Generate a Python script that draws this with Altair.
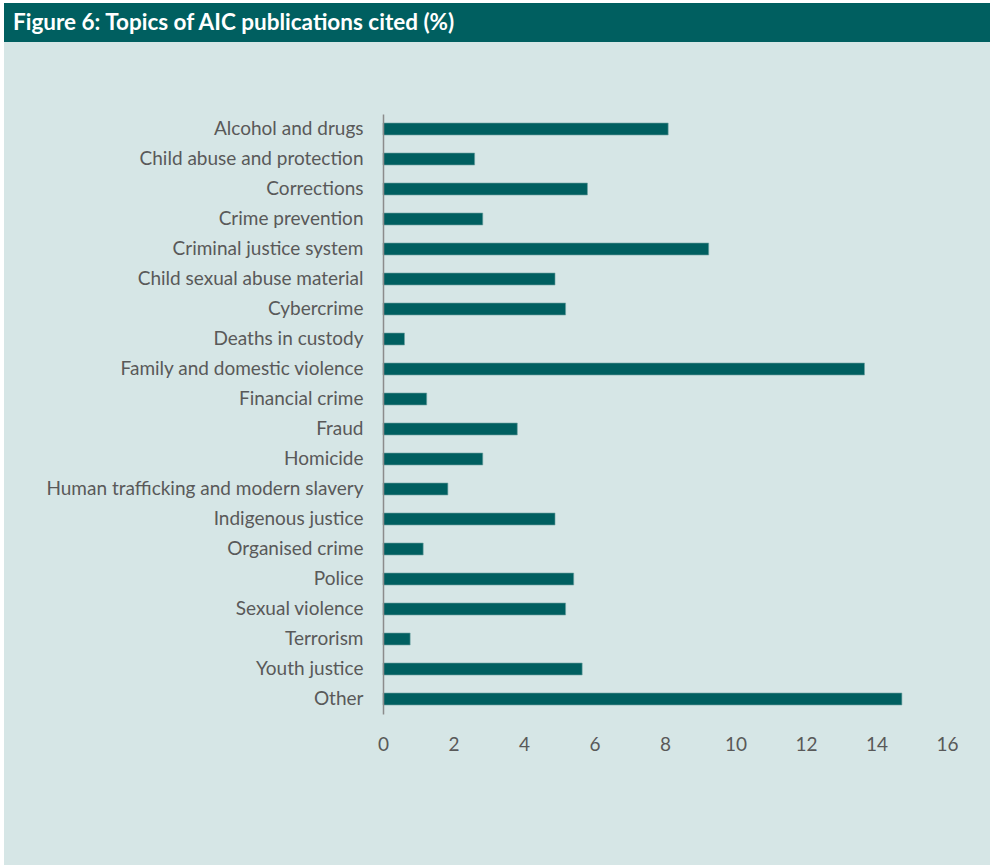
import altair as alt
import pandas as pd

title_text = "Figure 6: Topics of AIC publications cited (%)"

topics = [
    "Alcohol and drugs",
    "Child abuse and protection\u00a0",
    "Corrections",
    "Crime prevention",
    "Criminal justice system",
    "Child sexual abuse material",
    "Cybercrime",
    "Deaths in custody",
    "Family and domestic violence",
    "Financial crime\u00a0",
    "Fraud",
    "Homicide",
    "Human trafficking and modern slavery",
    "Indigenous justice",
    "Organised crime\u00a0",
    "Police",
    "Sexual violence",
    "Terrorism",
    "Youth justice",
    "Other",
]
percents = [8.09, 2.60, 5.80, 2.83, 9.24, 4.88, 5.18, 0.61, 13.66, 1.24,
            3.81, 2.83, 1.84, 4.88, 1.14, 5.41, 5.18, 0.77, 5.65, 14.72]
x_ticks = [0, 2, 4, 6, 8, 10, 12, 14, 16]

BG = "#d6e6e6"
TEAL = "#005f60"
LABEL = "#595959"
FONT = "Lato"

df = pd.DataFrame({"topic": topics, "pct": percents})
one = alt.Data(values=[{"a": 1}])

W, H = 564, 600
PL, PT = 383, 114
PR, PB = 990 - PL - W, 865 - PT - H

panel = alt.Chart(one).mark_rect(color=BG).encode(
    x=alt.value(-PL + 4), x2=alt.value(W + PR),
    y=alt.value(-PT + 3), y2=alt.value(H + PB),
)
bar_band = alt.Chart(one).mark_rect(color=TEAL).encode(
    x=alt.value(-PL + 4), x2=alt.value(W + PR),
    y=alt.value(-PT + 3), y2=alt.value(42 - PT),
)
title = alt.Chart(one).mark_text(
    text=title_text, color="white", font=FONT, fontWeight="bold",
    fontSize=22.5, align="left", baseline="middle",
).encode(x=alt.value(-PL + 13), y=alt.value(23 - PT))

bars = alt.Chart(df).mark_bar(color=TEAL, stroke="#6fa3a3", strokeWidth=0.6).encode(
    y=alt.Y(
        "topic:N", sort=topics, title=None,
        scale=alt.Scale(paddingInner=0.6, paddingOuter=0.3),
        axis=alt.Axis(
            domain=True, domainColor="#8c8c8c", domainWidth=1.5, ticks=False,
            labelFont=FONT, labelFontSize=19, labelColor=LABEL,
            labelPadding=20, labelLimit=400, grid=False, zindex=1,
        ),
    ),
    x=alt.X(
        "pct:Q", title=None,
        scale=alt.Scale(domain=[0, 16], nice=False),
        axis=alt.Axis(
            values=x_ticks, domain=False, ticks=False, grid=False,
            labelFont=FONT, labelFontSize=19, labelColor=LABEL,
            labelPadding=21, labelFlush=False, zindex=1,
        ),
    ),
)

chart = alt.layer(panel, bar_band, title, bars).properties(
    width=W, height=H,
    autosize=alt.AutoSizeParams(type="none"),
    padding={"left": PL, "top": PT, "right": PR, "bottom": PB},
    background="white",
).configure_view(stroke=None)

chart.save("out.html", embed_options={"renderer": "svg", "actions": False})
